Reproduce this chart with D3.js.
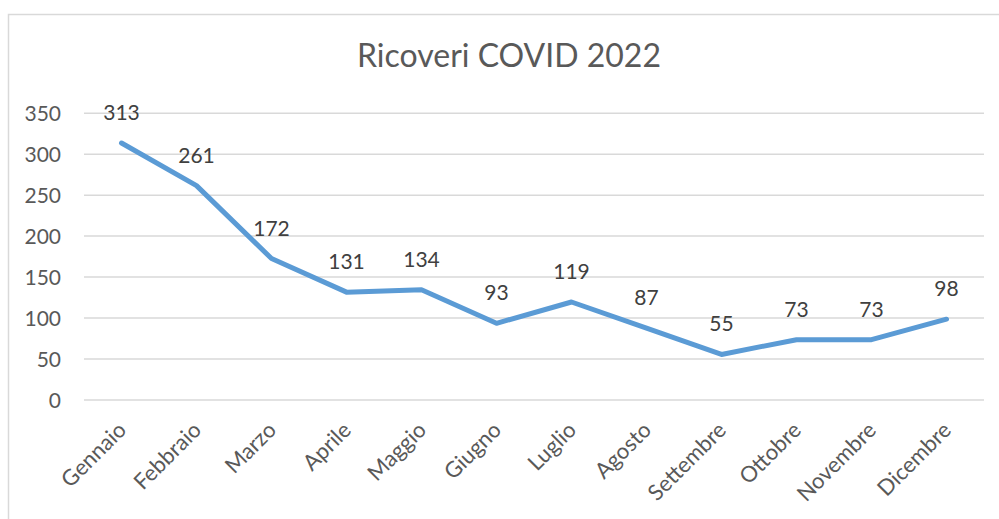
<!DOCTYPE html>
<html>
<head>
<meta charset="utf-8">
<script src="https://cdn.jsdelivr.net/npm/d3@7"></script>
<style>
  body { margin: 0; background: #fff; }
  text { font-family: Lato, "Open Sans", sans-serif; }
</style>
</head>
<body>
<div id="app"></div>
<script>
// dati
const months = ["Gennaio", "Febbraio", "Marzo", "Aprile", "Maggio", "Giugno",
  "Luglio", "Agosto", "Settembre", "Ottobre", "Novembre", "Dicembre"];
const ricoveri = [313, 261, 172, 131, 134, 93, 119, 87, 55, 73, 73, 98];
const yTicks = [0, 50, 100, 150, 200, 250, 300, 350];

const wrapper = { width: 999, height: 519 };
const plot = { left: 84, right: 984, top: 112.7, bottom: 399.5 };

const svg = d3.select('#app')
  .append('svg')
    .attr('width', wrapper.width)
    .attr('height', wrapper.height);

// bordo del grafico
svg.append('rect')
  .attr('x', 8.5).attr('y', 14.5)
  .attr('width', 1000).attr('height', 520)
  .attr('fill', 'none')
  .attr('stroke', '#d9d9d9')
  .attr('stroke-width', 1.5);

const x = d3.scaleBand()
  .domain(months)
  .range([plot.left, plot.right]);

const y = d3.scaleLinear()
  .domain([0, 350])
  .range([plot.bottom, plot.top]);

// titolo
svg.append('text')
  .attr('x', 509).attr('y', 67)
  .attr('text-anchor', 'middle')
  .attr('fill', '#595959')
  .style('font-size', '32px')
  .text('Ricoveri COVID 2022');

// griglia + asse y
const yAxis = svg.append('g')
  .attr('transform', `translate(${plot.left}, 0)`)
  .call(d3.axisLeft(y).tickValues(yTicks).tickSize(-(plot.right - plot.left)).tickPadding(23));
yAxis.select('.domain').remove();
yAxis.selectAll('line').attr('stroke', '#d9d9d9').attr('stroke-width', 1.5);
yAxis.selectAll('text')
  .attr('fill', '#595959')
  .attr('dy', '0.36em')
  .style('font-size', '21px');

// asse x
const xAxis = svg.append('g')
  .attr('transform', `translate(0, ${plot.bottom})`)
  .call(d3.axisBottom(x).tickSize(0).tickPadding(0));
xAxis.select('.domain').remove();
xAxis.selectAll('text')
  .attr('fill', '#595959')
  .attr('text-anchor', 'end')
  .attr('dy', 0)
  .attr('transform', 'translate(6, 32) rotate(-45)')
  .style('font-size', '22px');

// linea
const line = d3.line()
  .x((d, i) => x(months[i]) + x.bandwidth() / 2)
  .y(d => y(d));

svg.append('path')
  .datum(ricoveri)
  .attr('d', line)
  .attr('fill', 'none')
  .attr('stroke', '#5b9bd5')
  .attr('stroke-width', 5)
  .attr('stroke-linejoin', 'round')
  .attr('stroke-linecap', 'round');

// etichette dati
svg.append('g')
  .selectAll('text')
  .data(ricoveri)
  .join('text')
    .attr('x', (d, i) => x(months[i]) + x.bandwidth() / 2)
    .attr('y', d => y(d) - 23)
    .attr('text-anchor', 'middle')
    .attr('fill', '#404040')
    .style('font-size', '21px')
    .text(d => d);
</script>
</body>
</html>
